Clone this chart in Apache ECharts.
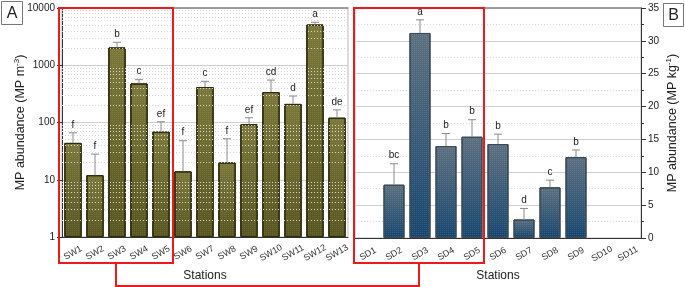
<!DOCTYPE html>
<html><head><meta charset="utf-8">
<script src="https://cdn.jsdelivr.net/npm/echarts@6/dist/echarts.min.js"></script>
<style>html,body{margin:0;padding:0;background:#fff}#c{width:685px;height:287px}</style>
</head><body><div id="c"></div>
<script>
const swStations = ['SW1','SW2','SW3','SW4','SW5','SW6','SW7','SW8','SW9','SW10','SW11','SW12','SW13'];
const swMean = [44, 12, 2040, 480, 69, 14, 417, 20, 93, 340, 211, 5130, 121];
const swErrTop = [66, 28, 2520, 560, 103, 48, 525, 52, 121, 551, 290, 5630, 166];
const swLetters = ['f','f','b','c','ef','f','c','f','ef','cd','d','a','de'];

const sdStations = ['SD1','SD2','SD3','SD4','SD5','SD6','SD7','SD8','SD9','SD10','SD11'];
const sdMean = [0, 8.1, 31.2, 14.0, 15.4, 14.3, 2.8, 7.7, 12.3, 0, 0];
const sdErrTop = [null, 11.3, 33.2, 15.9, 18.0, 15.8, 4.5, 8.8, 13.4, null, null];
const sdLetters = ['', 'bc', 'a', 'b', 'b', 'b', 'd', 'c', 'b', '', ''];

const leftTickLabels = [1, 10, 100, 1000, 10000];
const rightTickLabels = [0, 5, 10, 15, 20, 25, 30, 35];

const FONT = '"Liberation Sans", Arial, sans-serif';
const minorLog = [];
for (let d = 1; d < 10000; d *= 10) for (let k = 2; k <= 9; k++) minorLog.push(d * k);

const chart = echarts.init(document.getElementById('c'), null, {renderer: 'canvas'});

function errRender(letters, lineColor) {
  return function (params, api) {
    const i = api.value(0);
    const mean = api.value(1);
    const top = api.value(2);
    const children = [];
    const letter = letters[params.dataIndex];
    if (!isNaN(top) && top != null) {
      const p0 = api.coord([i, mean]);
      const p1 = api.coord([i, top]);
      children.push({type: 'line', shape: {x1: p0[0], y1: p0[1], x2: p1[0], y2: p1[1]}, style: {stroke: lineColor, lineWidth: 1}});
      children.push({type: 'line', shape: {x1: p1[0] - 4, y1: p1[1], x2: p1[0] + 4, y2: p1[1]}, style: {stroke: lineColor, lineWidth: 1}});
      if (letter) children.push({type: 'text', x: p1[0], y: p1[1] - 3, style: {text: letter, fill: '#222', font: '10px ' + FONT, align: 'center', verticalAlign: 'bottom'}});
    }
    return {type: 'group', children};
  };
}

const olive = new echarts.graphic.LinearGradient(0, 0, 0, 1, [{offset: 0, color: '#7a7738'}, {offset: 1, color: '#58551f'}]);
const blue = new echarts.graphic.LinearGradient(0, 0, 0, 1, [{offset: 0, color: '#5d7080'}, {offset: 1, color: '#17466f'}]);
const hatch = {symbol: 'rect', symbolSize: 1, dashArrayX: [1, 1], dashArrayY: [1, 1], color: 'rgba(255,255,255,0.10)', rotation: 0};

const xLabel = {rotate: 30, fontSize: 9, color: '#333', fontFamily: FONT, margin: 16, interval: 0, align: 'center', verticalAlign: 'middle'};
const supRich = {sup: {fontSize: 8, verticalAlign: 'top', padding: [0, 0, 7, 0], fontFamily: FONT, color: '#222'}};

chart.setOption({
  animation: false,
  grid: [
    {left: 62, top: 8, width: 286, height: 230, show: true, borderColor: '#bbb', borderWidth: 1},
    {left: 355, top: 8, width: 286, height: 230, show: true, borderColor: '#bbb', borderWidth: 1}
  ],
  xAxis: [
    {type: 'category', gridIndex: 0, data: swStations, position: 'bottom',
     axisLine: {lineStyle: {color: '#333'}}, axisTick: {length: 4, lineStyle: {color: '#333'}},
     axisLabel: xLabel,
     name: 'Stations', nameLocation: 'middle', nameGap: 33, nameTextStyle: {fontSize: 12, color: '#222', fontFamily: FONT}},
    {type: 'category', gridIndex: 0, data: swStations, position: 'bottom',
     axisLine: {show: false}, axisTick: {alignWithLabel: true, length: 4, lineStyle: {color: '#333'}}, axisLabel: {show: false}},
    {type: 'category', gridIndex: 0, data: swStations, position: 'top',
     axisLine: {lineStyle: {color: '#888', width: 1.5}}, axisTick: {show: false}, axisLabel: {show: false}},
    {type: 'category', gridIndex: 1, data: sdStations, position: 'bottom',
     axisLine: {lineStyle: {color: '#333'}}, axisTick: {length: 4, lineStyle: {color: '#333'}},
     axisLabel: xLabel,
     name: 'Stations', nameLocation: 'middle', nameGap: 31, nameTextStyle: {fontSize: 12, color: '#222', fontFamily: FONT}},
    {type: 'category', gridIndex: 1, data: sdStations, position: 'bottom',
     axisLine: {show: false}, axisTick: {alignWithLabel: true, length: 4, lineStyle: {color: '#333'}}, axisLabel: {show: false}},
    {type: 'category', gridIndex: 1, data: sdStations, position: 'top',
     axisLine: {lineStyle: {color: '#888', width: 1.5}}, axisTick: {show: false}, axisLabel: {show: false}}
  ],
  yAxis: [
    {type: 'log', gridIndex: 0, logBase: 10, min: leftTickLabels[0], max: leftTickLabels[leftTickLabels.length - 1],
     axisLine: {show: true, lineStyle: {color: '#333'}}, axisTick: {show: true, length: 5, lineStyle: {color: '#333'}},
     axisLabel: {fontSize: 10, color: '#222', fontFamily: FONT, margin: 7, formatter: v => String(Math.round(v))},
     splitLine: {show: true, lineStyle: {color: '#cfcfcf', width: 1}},
     name: 'MP abundance (MP m{sup|-3})', nameLocation: 'middle', nameGap: 34, nameMoveOverlap: false,
     nameTextStyle: {fontSize: 12.5, color: '#222', fontFamily: FONT, rich: supRich}},
    {type: 'value', gridIndex: 1, position: 'right', min: 0, max: 35, interval: 5,
     axisLine: {show: true, lineStyle: {color: '#333'}}, axisTick: {show: true, length: 5, lineStyle: {color: '#333'}},
     minorTick: {show: true, splitNumber: 2, length: 3, lineStyle: {color: '#333'}},
     axisLabel: {fontSize: 10, color: '#222', fontFamily: FONT, margin: 7},
     splitLine: {show: true, lineStyle: {color: '#cfcfcf'}},
     minorSplitLine: {show: true, lineStyle: {color: '#d8d8d8', type: [1, 2]}},
     name: 'MP abundance (MP kg{sup|-1})', nameLocation: 'middle', nameGap: 24, nameRotate: 90, nameMoveOverlap: false,
     nameTextStyle: {fontSize: 12.5, color: '#222', fontFamily: FONT, rich: supRich}}
  ],
  series: [
    {type: 'line', xAxisIndex: 0, yAxisIndex: 0, data: [], silent: true,
     markLine: {silent: true, symbol: 'none', label: {show: false},
       lineStyle: {color: '#d6d6d6', type: [1, 2], width: 1},
       data: minorLog.map(v => ({yAxis: v}))}},
    {type: 'bar', xAxisIndex: 0, yAxisIndex: 0, data: swMean, barWidth: '78%',
     itemStyle: {color: olive, borderColor: '#2f2d10', borderWidth: 1, decal: hatch}},
    {type: 'custom', xAxisIndex: 0, yAxisIndex: 0, clip: false, z: 5,
     data: swStations.map((s, i) => [i, swMean[i], swErrTop[i]]),
     renderItem: errRender(swLetters, '#8a8a8a')},
    {type: 'bar', xAxisIndex: 3, yAxisIndex: 1, barWidth: '80%',
     data: sdMean.map(v => v > 0 ? v : {value: v, itemStyle: {borderWidth: 0}}),
     itemStyle: {color: blue, borderColor: '#3c4a55', borderWidth: 1, decal: hatch}},
    {type: 'custom', xAxisIndex: 3, yAxisIndex: 1, clip: false, z: 5,
     data: sdStations.map((s, i) => [i, sdMean[i], sdErrTop[i] == null ? NaN : sdErrTop[i]]),
     renderItem: errRender(sdLetters, '#8a8a8a')}
  ]
});

// annotation frames, positioned from the axes
const px = (axis, cat) => chart.convertToPixel({xAxisIndex: axis}, cat);
const bandL = px(0, swStations[1]) - px(0, swStations[0]);
const bandR = px(3, sdStations[1]) - px(3, sdStations[0]);
const lx0 = px(0, swStations[0]) - bandL / 2 - 3, lx1 = px(0, swStations[4]) + bandL / 2 + 1;
const rx0 = px(3, sdStations[0]) - bandR / 2 - 1, rx1 = px(3, sdStations[4]) + bandR / 2 - 1;
const yTop = chart.convertToPixel({yAxisIndex: 1}, 35);
const yBot = 263, yLink = 286;
const lm = (lx0 + lx1) / 2, rm = (rx0 + rx1) / 2;
chart.setOption({
  graphic: [
    {type: 'rect', shape: {x: lx0, y: yTop, width: lx1 - lx0, height: yBot - yTop}, style: {fill: 'none', stroke: '#f01818', lineWidth: 2}, z: 100},
    {type: 'rect', shape: {x: rx0, y: yTop, width: rx1 - rx0, height: yBot - yTop}, style: {fill: 'none', stroke: '#f01818', lineWidth: 2}, z: 100},
    {type: 'polyline', shape: {points: [[lm, yBot], [lm, yLink], [rm, yLink], [rm, yBot]]}, style: {fill: 'none', stroke: '#f01818', lineWidth: 2}, z: 100},
    {type: 'rect', shape: {x: 1.5, y: 1.5, width: 21, height: 23}, style: {fill: '#fff', stroke: '#777', lineWidth: 1}, z: 100},
    {type: 'text', x: 12, y: 13.5, style: {text: 'A', font: '16px ' + FONT, fill: '#222', align: 'center', verticalAlign: 'middle'}, z: 101},
    {type: 'rect', shape: {x: 663.5, y: 3.5, width: 20, height: 23}, style: {fill: '#fff', stroke: '#777', lineWidth: 1}, z: 100},
    {type: 'text', x: 673.5, y: 15.5, style: {text: 'B', font: '16px ' + FONT, fill: '#222', align: 'center', verticalAlign: 'middle'}, z: 101}
  ]
});
</script></body></html>
